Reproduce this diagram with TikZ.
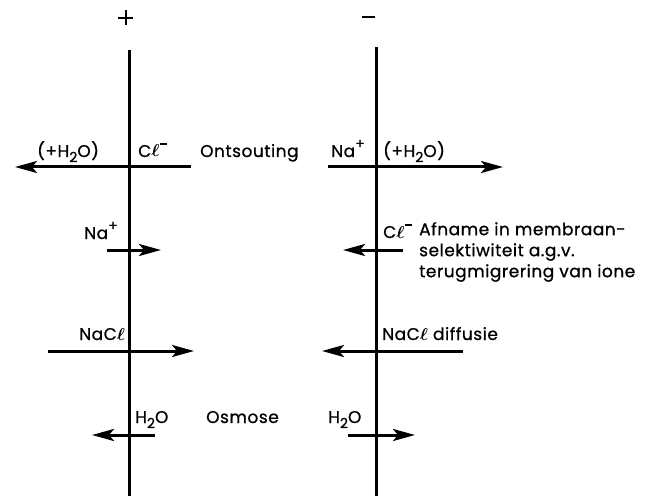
\documentclass[tikz,border=0pt]{standalone}
\usepackage{fontspec}
\setmainfont{Poppins}[LetterSpace=3,FakeBold=0.8]
\usetikzlibrary{arrows.meta}
\usepackage{amsmath}
% raised and lowered indices in the text font
\newcommand{\hiidx}[1]{\raisebox{0.5em}{\fontsize{14}{14}\selectfont #1}}
\newcommand{\loidx}[1]{\raisebox{-0.3em}{\fontsize{14}{14}\selectfont #1}}
\newcommand{\ellsym}{\ensuremath{\boldsymbol{\ell}}}
\newcommand{\minusidx}{\hiidx{\rule[0.25em]{0.55em}{1.6pt}}}
\begin{document}
\begin{tikzpicture}[x=1pt,y=-1pt,
  membrane/.style={line width=3pt},
  flow/.style={line width=3pt,-{Stealth[length=22pt,width=12pt,inset=5pt]}},
  lbl/.style={anchor=base west,inner sep=0pt,font=\fontsize{17}{21}\selectfont},
  sign/.style={inner sep=0pt}]
\useasboundingbox (0,0) rectangle (645,497);

% the two membranes and their polarity
\coordinate (Ltop) at (129,50);  \coordinate (Lbot) at (129,496);
\coordinate (Rtop) at (376,47);  \coordinate (Rbot) at (376,496);
\draw[membrane] (Ltop) -- (Lbot);
\draw[membrane] (Rtop) -- (Rbot);
\node[sign] (plus) at (129,18) {\rule[-6pt]{2.2pt}{15pt}\kern-8.6pt\rule[0.4pt]{15pt}{2.2pt}};
\node[sign] (minus) at (368,17) {\rule{13pt}{2.4pt}};

% row 1: desalination
\coordinate (a1s) at (191,167); \coordinate (a1e) at (15,167);
\coordinate (b1s) at (328,167); \coordinate (b1e) at (503,167);
\draw[flow] (a1s) -- (a1e);
\draw[flow] (b1s) -- (b1e);
\node[lbl] (w1) at (37,157) {(+H\loidx{2}O)};
\node[lbl] (cl1) at (138,157) {C\ellsym\minusidx};
\node[lbl] (ont) at (200,157) {Ontsouting};
\node[lbl] (na1) at (331,157) {Na\hiidx{+}};
\node[lbl] (w2) at (383,157) {(+H\loidx{2}O)};

% row 2: back migration of ions
\coordinate (a2s) at (107,250); \coordinate (a2e) at (161,250);
\coordinate (b2s) at (403,250); \coordinate (b2e) at (343,250);
\draw[flow] (a2s) -- (a2e);
\draw[flow] (b2s) -- (b2e);
\node[lbl] (na2) at (84,239) {Na\hiidx{+}};
\node[lbl] (cl2) at (383,238) {C\ellsym\minusidx};
\node[lbl,align=left,anchor=north west] (afn) at (419,222)
  {Afname in membraan-\\selektiwiteit a.g.v.\\terugmigrering van ione};

% row 3: salt diffusion
\coordinate (a3s) at (48,351); \coordinate (a3e) at (194,351);
\coordinate (b3s) at (463,351); \coordinate (b3e) at (322,351);
\draw[flow] (a3s) -- (a3e);
\draw[flow] (b3s) -- (b3e);
\node[lbl] (nacl1) at (79,340) {NaC\ellsym};
\node[lbl] (nacl2) at (382,340) {NaC\ellsym{} diffusie};

% row 4: osmosis
\coordinate (a4s) at (155,435); \coordinate (a4e) at (92,435);
\coordinate (b4s) at (348,435); \coordinate (b4e) at (415,435);
\draw[flow] (a4s) -- (a4e);
\draw[flow] (b4s) -- (b4e);
\node[lbl] (h2o1) at (135,423) {H\loidx{2}O};
\node[lbl] (osm) at (206,423) {Osmose};
\node[lbl] (h2o2) at (328,423) {H\loidx{2}O};
\end{tikzpicture}
\end{document}
